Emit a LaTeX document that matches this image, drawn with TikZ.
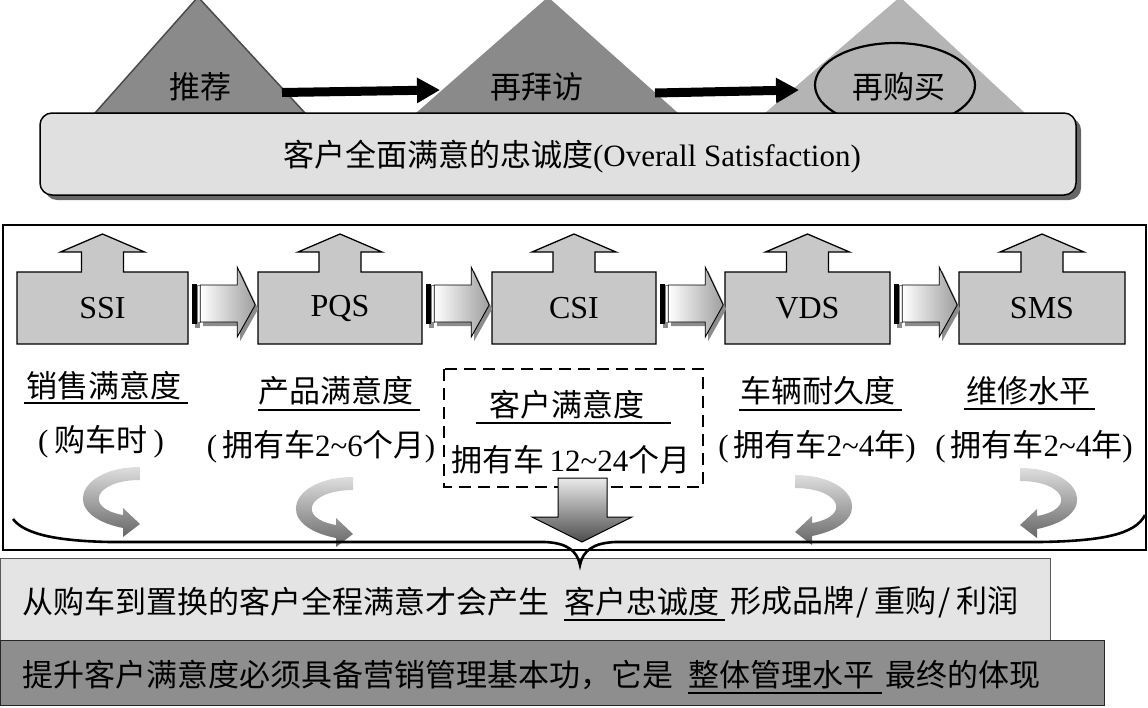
\documentclass[tikz,border=0pt]{standalone}
\usepackage{fontspec}
\setmainfont{Liberation Serif}
\newfontfamily\cjk{Noto Sans CJK SC}
\usetikzlibrary{arrows.meta,shapes.geometric,shadows,positioning}
\definecolor{tridark}{HTML}{8A8A8A}
\definecolor{trilight}{HTML}{B4B4B4}
\definecolor{panel}{HTML}{E0E0E0}
\definecolor{boxgray}{HTML}{C8C8C8}
\definecolor{shadowgray}{HTML}{666666}
\definecolor{rowlight}{HTML}{E4E4E4}
\definecolor{rowdark}{HTML}{8E8E8E}
\newcommand\zhsz{\fontsize{31}{36}\selectfont}
\newcommand\zhs[1]{{\cjk #1}}
\newcommand\tld{\string~}
\newcommand\slsh{{\fontsize{31}{36}\selectfont\hspace{2pt}/\hspace{6pt}}}
\tikzset{
  zh/.style={font=\cjk\zhsz, inner sep=0pt},
  lat/.style={font=\zhsz, inner sep=0pt},
  boxlabel/.style={font=\fontsize{32}{36}\selectfont, inner sep=0pt},
  uline/.style={line width=2pt},
  boxst/.style={fill=boxgray, draw=black, line width=1.3pt},
  bigarrow/.style={line width=9pt, -{Triangle[length=23pt,width=24pt]}},
  curlshade/.style={top color=black!13, bottom color=black!60},
}
\newcommand\upbox[4]{%
  \begin{scope}[shift={(#2,308)}]
    \filldraw[boxst] (-#3,36) -- (-#3,-36) -- (-21,-36) -- (-21,-56) -- (-42,-56) -- (0,-74) -- (42,-56) -- (21,-56) -- (21,-36) -- (#3,-36) -- (#3,36) -- cycle;
  \end{scope}
  \node[boxlabel, minimum width=2*#3, minimum height=72] (#1) at (#2,308) {#4};
}
\newcommand\blockarrow[1]{%
  \begin{scope}[shift={(#1.east)}]
    \fill[black!45] (15,-19) -- (52,-19) -- (52,-37) -- (70,1) -- (52,33) -- (52,18) -- (15,18) -- cycle;
    \fill[black!45] (7,-20) rectangle (12,20);
    \fill[black] (4,-24) rectangle (9,16);
    \filldraw[fill=white, draw=black!50, line width=0.5pt] (9,-23) rectangle (12,14);
    \shade[left color=white, right color=black!38, draw=black, line width=0.9pt]
      (12,-23) -- (49,-23) -- (49,-41) -- (67,-3) -- (49,29) -- (49,14) -- (12,14) -- cycle;
  \end{scope}
}
\newcommand\curl[2]{%
  \begin{scope}[shift={(#1)}, xscale=#2]
    \shade[curlshade] (27,-33) .. controls (-35,-33) and (-55,15) .. (10,28) -- (10,37) -- (27,24) -- (10,8) -- (10,15) .. controls (-30,8) and (-18,-20) .. (27,-20) -- cycle;
  \end{scope}
}
\begin{document}
\begin{tikzpicture}[x=1pt,y=-1pt]
\useasboundingbox (0,0) rectangle (1148,707);
% ---- top: triangles ----
\filldraw[fill=tridark, draw=black!70, line width=1.5pt] (95,113) -- (198,-3) -- (305,113) -- cycle;
\fill[tridark] (416,113) -- (548,-3) -- (678,113) -- cycle;
\fill[trilight] (765,113) -- (900,-3) -- (1025,113) -- cycle;
\node[draw, ellipse, line width=2.2pt, minimum width=160, minimum height=84, inner sep=0pt] (ring) at (895,85) {};
\node[zh] (t1) at (200,87) {推荐};
\node[zh] (t2) at (537,87) {再拜访};
\node[zh] (t3) at (899,87) {再购买};
\coordinate (a1s) at (282,92.5);
\coordinate (a1e) at (440,90);
\coordinate (a2s) at (655,93);
\coordinate (a2e) at (799,90);
\draw[bigarrow] (a1s) -- (a1e);
\draw[bigarrow] (a2s) -- (a2e);
\node[draw=black, line width=1.5pt, fill=panel, rounded corners=12pt, minimum width=1036, minimum height=82, inner sep=0pt,
      drop shadow={shadow xshift=5pt, shadow yshift=-5pt, fill=shadowgray, opacity=1}] (loyal) at (558,154) {};
\node[lat] (loyaltxt) at (572,157) {\zhs{客户全面满意的忠诚度}(Overall Satisfaction)};
% ---- middle frame ----
\draw[line width=1.5pt] (3,225) rectangle (1146,550);
\upbox{ssi}{102.5}{85.5}{SSI}
\upbox{pqs}{340}{82}{PQS}
\upbox{csi}{574}{82}{CSI}
\upbox{vds}{807.5}{82.5}{VDS}
\upbox{sms}{1042}{83}{SMS}
\blockarrow{ssi}
\blockarrow{pqs}
\blockarrow{csi}
\blockarrow{vds}
% ---- labels ----
\node[zh] (l1) at (104,386) {销售满意度};
\draw[uline] (24,403) -- (188,403);
\node[lat] (s1) at (101,442) {(\hspace{6pt}\zhs{购车时}\hspace{6pt})};
\node[zh] (l2) at (336,391) {产品满意度};
\draw[uline] (258,410) -- (420,410);
\node[lat] (s2) at (321,447) {(\hspace{5pt}\zhs{拥有车}2\tld6\zhs{个月})};
\draw[dashed, dash pattern=on 12pt off 7pt, line width=2.5pt] (444,369) rectangle (703,487);
\node[zh] (l3) at (567,405) {客户满意度};
\draw[uline] (476,423) -- (671,423);
\node[lat] (s3) at (571,460) {\zhs{拥有车}\hspace{5pt}12\tld24\zhs{个月}};
\node[zh] (l4) at (818,391) {车辆耐久度};
\draw[uline] (739,410) -- (902,410);
\node[lat] (s4) at (817,447) {(\hspace{5pt}\zhs{拥有车}2\tld4\zhs{年})};
\node[zh] (l5) at (1028,391) {维修水平};
\draw[uline] (964,409) -- (1095,409);
\node[lat] (s5) at (1034,447) {(\hspace{5pt}\zhs{拥有车}2\tld4\zhs{年})};
% ---- down arrow ----
\shade[top color=black!8, bottom color=black!70, draw=black, line width=1pt]
  (558,478) -- (607,478) -- (607,517) -- (632,517) -- (582,542) -- (532,517) -- (558,517) -- cycle;
% ---- curled arrows ----
\curl{113,500}{1}
\curl{326,510}{1}
\curl{822,508}{-1}
\curl{1047,501}{-1}
% ---- bottom rows ----
\node[draw=black!65, line width=1pt, fill=rowlight, minimum width=1050, minimum height=82, inner sep=0pt, anchor=north west] (row1) at (0,558) {};
\node[draw=black!85, line width=1.2pt, fill=rowdark, minimum width=1104, minimum height=65, inner sep=0pt, anchor=north west] (row2) at (0,640) {};
\node[zh, anchor=west] (r1a) at (22,602) {从购车到置换的客户全程满意才会产生};
\node[zh, anchor=west] (r1b) at (564,602) {客户忠诚度};
\node[zh, anchor=west] (r1c) at (730,602) {形成品牌\slsh 重购\slsh 利润};
\draw[uline] (564,620) -- (725,620);
\node[zh, anchor=west] (r2a) at (22,675) {提升客户满意度必须具备营销管理基本功，它是};
\node[zh, anchor=west] (r2b) at (688,675) {整体管理水平};
\node[zh, anchor=west] (r2c) at (885,675) {最终的体现};
\draw[uline] (688,693) -- (882,693);
% ---- brace ----
\draw[line width=2.6pt] (13,519) .. controls (25,535) and (60,541) .. (110,542) -- (545,542)
  .. controls (566,543) and (577,550) .. (580,565) .. controls (583,550) and (594,543) .. (615,542)
  -- (1040,542) .. controls (1100,541) and (1135,535) .. (1145,515);
\end{tikzpicture}
\end{document}
